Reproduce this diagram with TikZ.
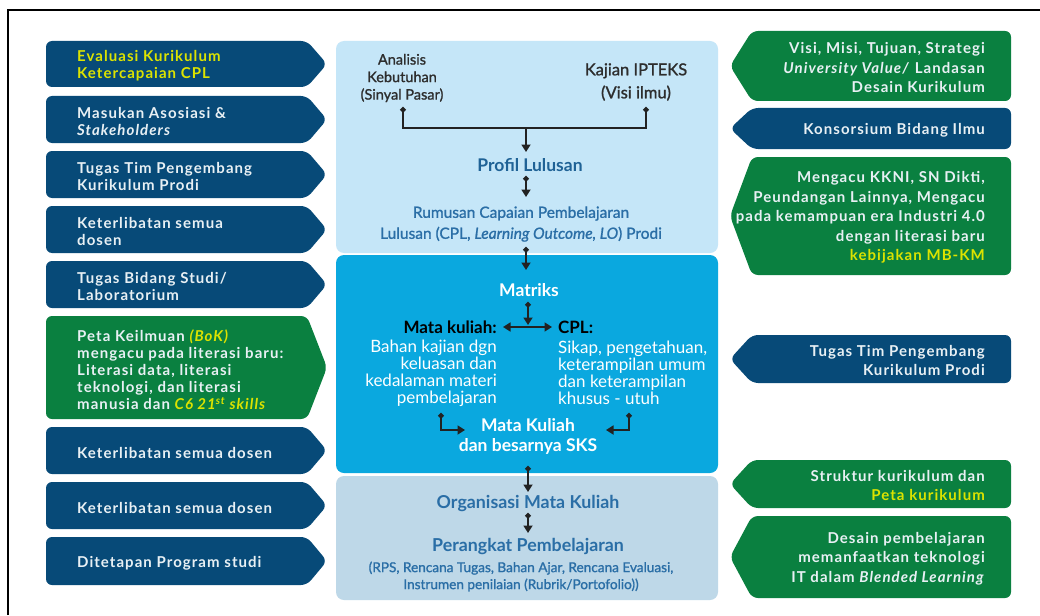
\documentclass[tikz,border=0pt]{standalone}
\usepackage{fontspec}
\setmainfont{Lato}
\newfontfamily\lmed[FakeBold=1.2]{Lato}
\newfontfamily\boxfont[LetterSpace=7]{Lato}
\usetikzlibrary{arrows.meta}
\definecolor{navy}{HTML}{074A78}
\definecolor{grn}{HTML}{0A8040}
\definecolor{ylw}{HTML}{DCE300}
\definecolor{boxfg}{HTML}{E8F0F4}
\definecolor{pone}{HTML}{C5E6F8}
\definecolor{ptwo}{HTML}{0AA8DF}
\definecolor{pthree}{HTML}{BED8E8}
\definecolor{ttlblue}{HTML}{1F6296}
\definecolor{txtblue}{HTML}{2A6EA6}
\definecolor{dk}{HTML}{2D2D2D}
\definecolor{lineC}{HTML}{222222}
\tikzset{
  boxtext/.style={font=\boxfont\bfseries\fontsize{15}{17}\selectfont, text=boxfg, inner sep=0pt, align=left, anchor=west},
  rboxtext/.style={font=\boxfont\bfseries\fontsize{15}{19.5}\selectfont, text=boxfg, inner sep=0pt, align=right, anchor=east},
  panel/.style={rounded corners=8pt},
  ln/.style={draw=lineC, line width=1.7pt},
  conn/.style={ln, {Circle[length=5.5pt]}-{Triangle[width=9pt,length=7.5pt]}},
  plainarrow/.style={ln, -{Triangle[width=9pt,length=7.5pt]}},
  dots/.style={ln, {Circle[length=5.5pt]}-{Circle[length=5.5pt]}},
  darktext/.style={text=dk, inner sep=0pt, align=center},
  ttl/.style={font=\bfseries\fontsize{17.5}{20}\selectfont, text=ttlblue, inner sep=0pt, align=center},
  whitetext/.style={text=white, inner sep=0pt},
}
\newcommand\LBox[5]{%
  \fill[#4, rounded corners=6pt] (46,#2) -- (307,#2) -- (327,{(#2+#3)/2}) -- (307,#3) -- (46,#3) -- cycle;
  \node[boxtext] (#1) at (77,{(#2+#3)/2+2}) {#5};
}
\newcommand\RBox[5]{%
  \fill[#4, rounded corners=6pt] (1011,#2) -- (752,#2) -- (730,{(#2+#3)/2}) -- (752,#3) -- (1011,#3) -- cycle;
  \node[rboxtext] (#1) at (985,{(#2+#3)/2+1.5}) {#5};
}
\begin{document}
\begin{tikzpicture}[x=1pt,y=-1pt]
\useasboundingbox (0,0) rectangle (1040,615);
\fill[white] (0,0) rectangle (1040,615);
\draw[line width=1.2pt, black] (8,615) -- (8,10) -- (1040,10);

% left boxes
\LBox{l1}{41}{87}{navy}{\textcolor{ylw}{Evaluasi Kurikulum}\\\textcolor{ylw}{Ketercapaian CPL}}
\LBox{l2}{96}{143}{navy}{Masukan Asosiasi \&\\\textit{Stakeholders}}
\LBox{l3}{151}{198}{navy}{Tugas Tim Pengembang\\Kurikulum Prodi}
\LBox{l4}{206}{253}{navy}{Keterlibatan semua\\dosen}
\LBox{l5}{261}{308}{navy}{Tugas Bidang Studi/\\Laboratorium}
\LBox{l6}{316}{419}{grn}{Peta Keilmuan \textcolor{ylw}{\textit{(BoK)}}\\mengacu pada literasi baru:\\Literasi data, literasi\\teknologi, dan literasi\\manusia dan \textcolor{ylw}{\textit{C6 21\textsuperscript{st} skills}}}
\LBox{l7}{427}{474}{navy}{Keterlibatan semua dosen}
\LBox{l8}{482}{529}{navy}{Keterlibatan semua dosen}
\LBox{l9}{537}{585}{navy}{Ditetapan Program studi}

% right boxes
\RBox{r1}{31}{101}{grn}{Visi, Misi, Tujuan, Strategi\\\textit{University Value/} Landasan\\Desain Kurikulum}
\RBox{r2}{108}{149}{navy}{Konsorsium Bidang Ilmu}
\RBox{r3}{157}{275}{grn}{Mengacu KKNI, SN Dikti,\\Peundangan Lainnya, Mengacu\\pada kemampuan era Industri 4.0\\dengan literasi baru\\\textcolor{ylw}{kebijakan MB-KM}}
\RBox{r4}{335}{383}{navy}{Tugas Tim Pengembang\\Kurikulum Prodi}
\RBox{r5}{460}{508}{grn}{Struktur kurikulum dan\\\textcolor{ylw}{Peta kurikulum}}
\RBox{r6}{516}{598}{grn}{Desain pembelajaran\\memanfaatkan teknologi\\IT dalam \textit{Blended Learning}}

% center panels
\fill[pone, panel] (336,41) rectangle (718,253);
\fill[ptwo, panel] (336,255) rectangle (718,473);
\fill[pthree, panel] (336,476) rectangle (718,600);

% panel 1 texts
\node[darktext, font=\lmed\fontsize{14.5}{17.5}\selectfont] (ana) at (402,78) {Analisis\\Kebutuhan\\(Sinyal Pasar)};
\node[darktext, font=\lmed\fontsize{16.5}{23}\selectfont] (kaj) at (636,82) {Kajian IPTEKS\\(Visi ilmu)};
\node[ttl] (prof) at (530,165) {Profil Lulusan};
\node[text=txtblue, inner sep=0pt, align=center, font=\lmed\fontsize{15.5}{21}\selectfont] (rum) at (521,224) {Rumusan Capaian Pembelajaran\\Lulusan (CPL, \textit{Learning Outcome, LO}) Prodi};

% panel 2 texts
\node[whitetext, font=\bfseries\fontsize{17.5}{20}\selectfont] (mat) at (529,290) {Matriks};
\node[text=black, inner sep=0pt, anchor=east, font=\bfseries\fontsize{17}{20}\selectfont] (mk) at (497,327) {Mata kuliah:};
\node[text=black, inner sep=0pt, anchor=west, font=\bfseries\fontsize{17}{20}\selectfont] (cpl) at (558,327) {CPL:};
\node[whitetext, anchor=east, align=right, font=\fontsize{17}{17}\selectfont] (mkd) at (497,373) {Bahan kajian dgn\\keluasan dan\\kedalaman materi\\pembelajaran};
\node[whitetext, anchor=west, align=left, font=\fontsize{17}{17}\selectfont] (cpld) at (558,373) {Sikap, pengetahuan,\\keterampilan umum\\dan keterampilan\\khusus - utuh};
\node[whitetext, align=center, font=\bfseries\fontsize{17.5}{20}\selectfont] (mks) at (528,436) {Mata Kuliah\\dan besarnya SKS};

% panel 3 texts
\node[ttl, text=txtblue, font=\bfseries\fontsize{17.8}{20}\selectfont] (org) at (528,503) {Organisasi Mata Kuliah};
\node[ttl, text=txtblue, font=\bfseries\fontsize{17.8}{20}\selectfont] (per) at (528,546) {Perangkat Pembelajaran};
\node[text=txtblue, inner sep=0pt, align=center, font=\lmed\fontsize{13.6}{17}\selectfont] (perd) at (521,576.5) {(RPS, Rencana Tugas, Bahan Ajar, Rencana Evaluasi,\\Instrumen penilaian (Rubrik/Portofolio))};

% connectors
\coordinate (a1) at (403,107);
\coordinate (a2) at (646,107);
\coordinate (j) at (526,128);
\coordinate (t1) at (526,152);
\draw[dots] (a1) |- (j) -| (a2);
\draw[plainarrow] (j) -- (t1);
\coordinate (p1) at (526,176);
\coordinate (p2) at (526,197);
\draw[conn] (p1) -- (p2);
\coordinate (r1s) at (526,247);
\coordinate (m0) at (526,270);
\draw[conn] (r1s) -- (m0);
\coordinate (m1) at (528,302);
\coordinate (m2) at (528,325);
\draw[conn] (m1) -- (m2);
\coordinate (h1) at (503,327);
\coordinate (h2) at (552,327);
\draw[ln, {Triangle[width=9pt,length=7.5pt]}-{Triangle[width=9pt,length=7.5pt]}] (h1) -- (h2);
\coordinate (b1) at (441,413);
\coordinate (b2) at (465,430);
\draw[conn] (b1) |- (b2);
\coordinate (c1) at (629,413);
\coordinate (c2) at (606,430);
\draw[conn] (c1) |- (c2);
\coordinate (s1) at (528,466);
\coordinate (s2) at (528,492);
\draw[conn] (s1) -- (s2);
\coordinate (o1) at (528,513);
\coordinate (o2) at (528,533);
\draw[conn] (o1) -- (o2);
\end{tikzpicture}
\end{document}
